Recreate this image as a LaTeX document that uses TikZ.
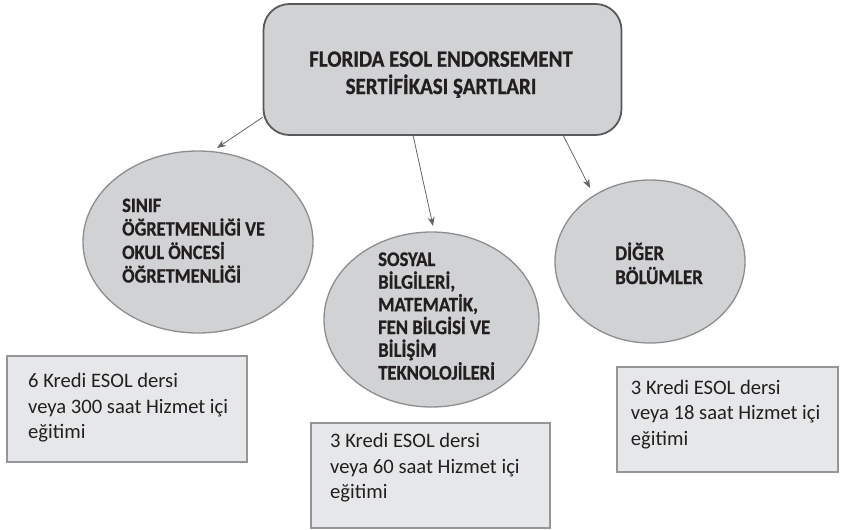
\documentclass[tikz,border=0pt]{standalone}
\usepackage{fontspec}
\setmainfont{Carlito}[BoldFeatures={FakeStretch=0.9,FakeBold=0.8}]
\usetikzlibrary{shapes.geometric,arrows.meta}
\definecolor{topfill}{RGB}{209,210,212}
\definecolor{topline}{RGB}{88,89,91}
\definecolor{ellfill}{RGB}{209,210,212}
\definecolor{ellline}{RGB}{140,141,143}
\definecolor{boxfill}{RGB}{230,231,232}
\definecolor{boxline}{RGB}{147,149,152}
\definecolor{arrcol}{RGB}{100,101,104}
\definecolor{txt}{RGB}{35,31,32}
\tikzset{
  ell/.style={ellipse, draw=ellline, fill=ellfill, line width=1.3pt, inner sep=0pt},
  infobox/.style={draw=boxline, fill=boxfill, line width=1.5pt},
  elltext/.style={align=left, text=txt, inner sep=0pt, anchor=base west},
  boxtext/.style={align=left, text=txt, inner sep=0pt, anchor=base west,
                  font=\fontsize{20.6}{25.5}\selectfont},
  arr/.style={draw=arrcol, line width=0.8pt, -{Stealth[length=9pt,width=7pt]}}
}
\begin{document}
\begin{tikzpicture}[x=1pt,y=-1pt]
\useasboundingbox (0,0) rectangle (846,530);
% top box
\node[draw=topline, fill=topfill, line width=1.8pt, rounded corners=26pt,
      minimum width=358pt, minimum height=131pt] (top) at (442.5,69.5) {};
% (base anchor = baseline of the last line)
\node[align=center, text=txt, inner sep=0pt, anchor=base,
      font=\fontsize{23.3}{27.3}\selectfont\bfseries] (title) at (441,94)
      {FLORIDA ESOL ENDORSEMENT\\SERTİFİKASI ŞARTLARI};
% ellipses
\node[ell, minimum width=230pt, minimum height=182pt] (e1) at (198,242) {};
\node[ell, minimum width=215pt, minimum height=175pt] (e2) at (431.5,319.5) {};
\node[ell, minimum width=190pt, minimum height=163pt] (e3) at (650,261.5) {};
\node[elltext, font=\fontsize{20.4}{23.5}\selectfont\bfseries] (t1) at (122,282.5)
  {SINIF\\ÖĞRETMENLİĞİ VE\\OKUL ÖNCESİ\\ÖĞRETMENLİĞİ};
\node[elltext, font=\fontsize{20.7}{22.7}\selectfont\bfseries] (t2) at (378,379.5)
  {SOSYAL\\BİLGİLERİ,\\MATEMATİK,\\FEN BİLGİSİ VE\\BİLİŞİM\\TEKNOLOJİLERİ};
\node[elltext, font=\fontsize{21}{24}\selectfont\bfseries] (t3) at (615,284)
  {DİĞER\\BÖLÜMLER};
% info boxes
\draw[infobox] (7,356) rectangle (247,462);
\node[boxtext] (b1) at (28,438.7)
  {6 Kredi ESOL dersi\\veya 300 saat Hizmet içi\\eğitimi};
\draw[infobox] (311,423) rectangle (550,528);
\node[boxtext] (b2) at (330,498.7)
  {3 Kredi ESOL dersi\\veya 60 saat Hizmet içi\\eğitimi};
\draw[infobox] (617,367) rectangle (838,472);
\node[boxtext] (b3) at (630.7,445)
  {3 Kredi ESOL dersi\\veya 18 saat Hizmet içi\\eğitimi};
% arrows
\coordinate (a1s) at (263,117);
\coordinate (a1e) at (217,148);
\coordinate (a2s) at (413,135);
\coordinate (a2e) at (433,226);
\coordinate (a3s) at (563,135);
\coordinate (a3e) at (590,188);
\draw[arr] (a1s) -- (a1e);
\draw[arr] (a2s) -- (a2e);
\draw[arr] (a3s) -- (a3e);
\end{tikzpicture}
\end{document}
